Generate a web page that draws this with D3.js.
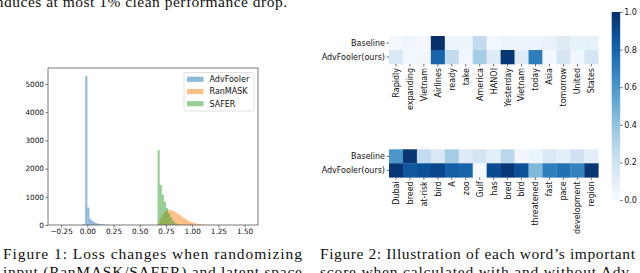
<!DOCTYPE html>
<html>
<head>
<meta charset="utf-8">
<script src="https://cdn.jsdelivr.net/npm/d3@7"></script>
<style>
  body { margin: 0; background: #fff; overflow: hidden; }
  svg { display: block; }
</style>
</head>
<body>
<script>
// ---- data ----
var binWidth = 0.02;
var advStart = -0.06;
var advCounts = [10, 30, 5280, 620, 210, 140, 90, 60, 40, 30, 20, 15, 10];
var ranStart = 0.67;
var ranCounts = [80, 250, 380, 470, 520, 530, 530, 500, 460, 410, 360, 300, 250, 200, 160, 120, 90, 70, 50, 35, 25, 15, 10, 5, 3];
var saferStart = 0.67;
var saferCounts = [2650, 1420, 1080, 820, 600, 420, 270, 150, 70, 30, 10];
var seriesNames = ["AdvFooler", "RanMASK", "SAFER"];
var histXTicks = [-0.25, 0, 0.25, 0.5, 0.75, 1.0, 1.25, 1.5];
var histYTicks = [0, 1000, 2000, 3000, 4000, 5000];

var rowNames = ["Baseline", "AdvFooler(ours)"];
var words1 = ["Rapidly", "expanding", "Vietnam", "Airlines", "ready", "take", "America", "HANOI", "Yesterday", "Vietnam", "today", "Asia", "tomorrow", "United", "States"];
var base1 = [0.02, 0.04, 0.02, 1.0, 0.05, 0.05, 0.25, 0.03, 0.06, 0.05, 0.05, 0.07, 0.12, 0.08, 0.08];
var ours1 = [0.15, 0.03, 0.03, 0.8, 0.25, 0.03, 0.35, 0.12, 0.98, 0.12, 0.7, 0.02, 0.17, 0.04, 0.17];
var words2 = ["Dubai", "breed", "at-risk", "bird", "A", "zoo", "Gulf", "has", "bred", "bird", "threatened", "fast", "pace", "development", "region"];
var base2 = [0.6, 0.98, 0.25, 0.15, 0.35, 0.12, 0.18, 0.1, 0.28, 0.03, 0.05, 0.15, 0.1, 0.2, 0.1];
var ours2 = [0.98, 0.85, 0.88, 0.92, 0.82, 0.8, 0.02, 0.9, 0.97, 0.88, 0.45, 0.7, 0.75, 0.68, 0.98];
var cbarTicks = [0, 0.2, 0.4, 0.6, 0.8, 1.0];

var W = 640, H = 273;
var sans = "DejaVu Sans", serif = "Liberation Serif";

var svg = d3.select("body").append("svg").attr("width", W).attr("height", H);

// ---- caption text ----
function place_text(str, x, y, size, len) {
  var t = svg.append("text").attr("x", x).attr("y", y)
    .style("font-family", serif).style("font-size", size + "px").attr("fill", "#111").text(str);
  if (len) t.attr("textLength", len).attr("lengthAdjust", "spacing");
}
place_text("induces at most 1% clean performance drop.", -9, 6.5, 15.5, 296);
place_text("Figure 1: Loss changes when randomizing", 3, 259, 15.5, 299);
place_text("input (RanMASK/SAFER) and latent space", 3, 276.5, 15.5, 299);
place_text("Figure 2: Illustration of each word\u2019s important", 320, 259, 15.5, 315);
place_text("score when calculated with and without Adv-", 320, 276.5, 15.5, 315);

// ---- histogram ----
var hx = d3.scaleLinear().domain([-0.375, 1.628]).range([48, 258]);
var hy = d3.scaleLinear().domain([0, 5567]).range([225, 68]);
var colors = ["#1f77b4", "#ff7f0e", "#2ca02c"];

function bins(start, counts) {
  return counts.map(function(c, i) { return { x0: start + i * binWidth, x1: start + (i + 1) * binWidth, n: c }; });
}
var histData = [bins(advStart, advCounts), bins(ranStart, ranCounts), bins(saferStart, saferCounts)];

histData.forEach(function(b, k) {
  svg.append("g").selectAll("rect").data(b).enter().append("rect")
    .attr("x", function(d) { return hx(d.x0); })
    .attr("width", function(d) { return hx(d.x1) - hx(d.x0) + 0.05; })
    .attr("y", function(d) { return hy(d.n); })
    .attr("height", function(d) { return hy(0) - hy(d.n); })
    .attr("fill", colors[k]).attr("fill-opacity", 0.5);
});

var xAxis = svg.append("g").attr("transform", "translate(0,225)")
  .call(d3.axisBottom(hx).tickValues(histXTicks).tickSize(2.5).tickPadding(1.5).tickFormat(d3.format(".2f")));
var yAxis = svg.append("g").attr("transform", "translate(48,0)")
  .call(d3.axisLeft(hy).tickValues(histYTicks).tickSize(2.5).tickPadding(1.5).tickFormat(d3.format("d")));
[xAxis, yAxis].forEach(function(a) {
  a.select(".domain").remove();
  a.selectAll("line").attr("stroke", "#333").attr("stroke-width", 0.7);
  a.selectAll("text").style("font-family", sans).style("font-size", "7.3px").attr("fill", "#111");
});
xAxis.selectAll("text").text(function(d) { return d3.format(".2f")(d).replace("-", "\u2212"); });

svg.append("rect").attr("x", 48).attr("y", 68).attr("width", 210).attr("height", 157)
  .attr("fill", "none").attr("stroke", "#444").attr("stroke-width", 0.7);

// legend
var lg = svg.append("g");
lg.append("rect").attr("x", 184).attr("y", 72.5).attr("width", 70).attr("height", 38.5)
  .attr("rx", 1.5).attr("fill", "#fff").attr("fill-opacity", 0.8).attr("stroke", "#d4d4d4").attr("stroke-width", 0.7);
seriesNames.forEach(function(s, i) {
  var yy = 79.3 + i * 12.2;
  lg.append("rect").attr("x", 187).attr("y", yy - 2.6).attr("width", 16.5).attr("height", 5.2)
    .attr("fill", colors[i]).attr("fill-opacity", 0.5);
  lg.append("text").attr("x", 209.5).attr("y", yy + 2.9).text(s)
    .style("font-family", sans).style("font-size", "8px").attr("fill", "#111");
});

// ---- heatmaps ----
var blues = d3.scaleSequential(d3.interpolateBlues).domain([0, 1]);

function heatmap(words, rows, top) {
  var g = svg.append("g");
  var cx = d3.scaleBand().domain(d3.range(words.length)).range([389, 598.3]);
  var cy = d3.scaleBand().domain(d3.range(rows.length)).range([top, top + 28]);
  rows.forEach(function(vals, r) {
    g.selectAll(null).data(vals).enter().append("rect")
      .attr("x", function(d, i) { return cx(i); })
      .attr("y", cy(r))
      .attr("width", cx.bandwidth() + 0.3)
      .attr("height", cy.bandwidth() + 0.3)
      .attr("fill", function(d) { return blues(d); });
    g.append("line").attr("x1", 386.5).attr("x2", 389).attr("y1", cy(r) + cy.bandwidth() / 2).attr("y2", cy(r) + cy.bandwidth() / 2)
      .attr("stroke", "#333").attr("stroke-width", 0.7);
    g.append("text").attr("x", 385).attr("y", cy(r) + cy.bandwidth() / 2 + 2.9)
      .attr("text-anchor", "end").text(rowNames[r])
      .style("font-family", sans).style("font-size", "8px").attr("fill", "#111");
  });
  var bottom = top + 28;
  words.forEach(function(w, i) {
    var xc = cx(i) + cx.bandwidth() / 2;
    g.append("line").attr("x1", xc).attr("x2", xc).attr("y1", bottom).attr("y2", bottom + 2.5)
      .attr("stroke", "#333").attr("stroke-width", 0.7);
    g.append("text").attr("transform", "translate(" + (xc + 2.9) + "," + (bottom + 4) + ") rotate(-90)")
      .attr("text-anchor", "end").text(w)
      .style("font-family", sans).style("font-size", "8px").attr("fill", "#111");
  });
}
heatmap(words1, [base1, ours1], 36);
heatmap(words2, [base2, ours2], 149.3);

// ---- colorbar ----
var defs = svg.append("defs");
var grad = defs.append("linearGradient").attr("id", "cb").attr("x1", 0).attr("y1", 1).attr("x2", 0).attr("y2", 0);
d3.range(0, 1.0001, 0.05).forEach(function(t) {
  grad.append("stop").attr("offset", t).attr("stop-color", blues(t));
});
var cbY = d3.scaleLinear().domain([0, 1]).range([200, 12]);
svg.append("rect").attr("x", 611.7).attr("y", cbY(1)).attr("width", 8.5).attr("height", cbY(0) - cbY(1))
  .attr("fill", "url(#cb)");
var cAxis = svg.append("g").attr("transform", "translate(620.2,0)")
  .call(d3.axisRight(cbY).tickValues(cbarTicks).tickSize(2.5).tickPadding(1.5).tickFormat(d3.format(".1f")));
cAxis.select(".domain").remove();
cAxis.selectAll("line").attr("stroke", "#333").attr("stroke-width", 0.7);
cAxis.selectAll("text").style("font-family", sans).style("font-size", "8px").attr("fill", "#111");
</script>
</body>
</html>
